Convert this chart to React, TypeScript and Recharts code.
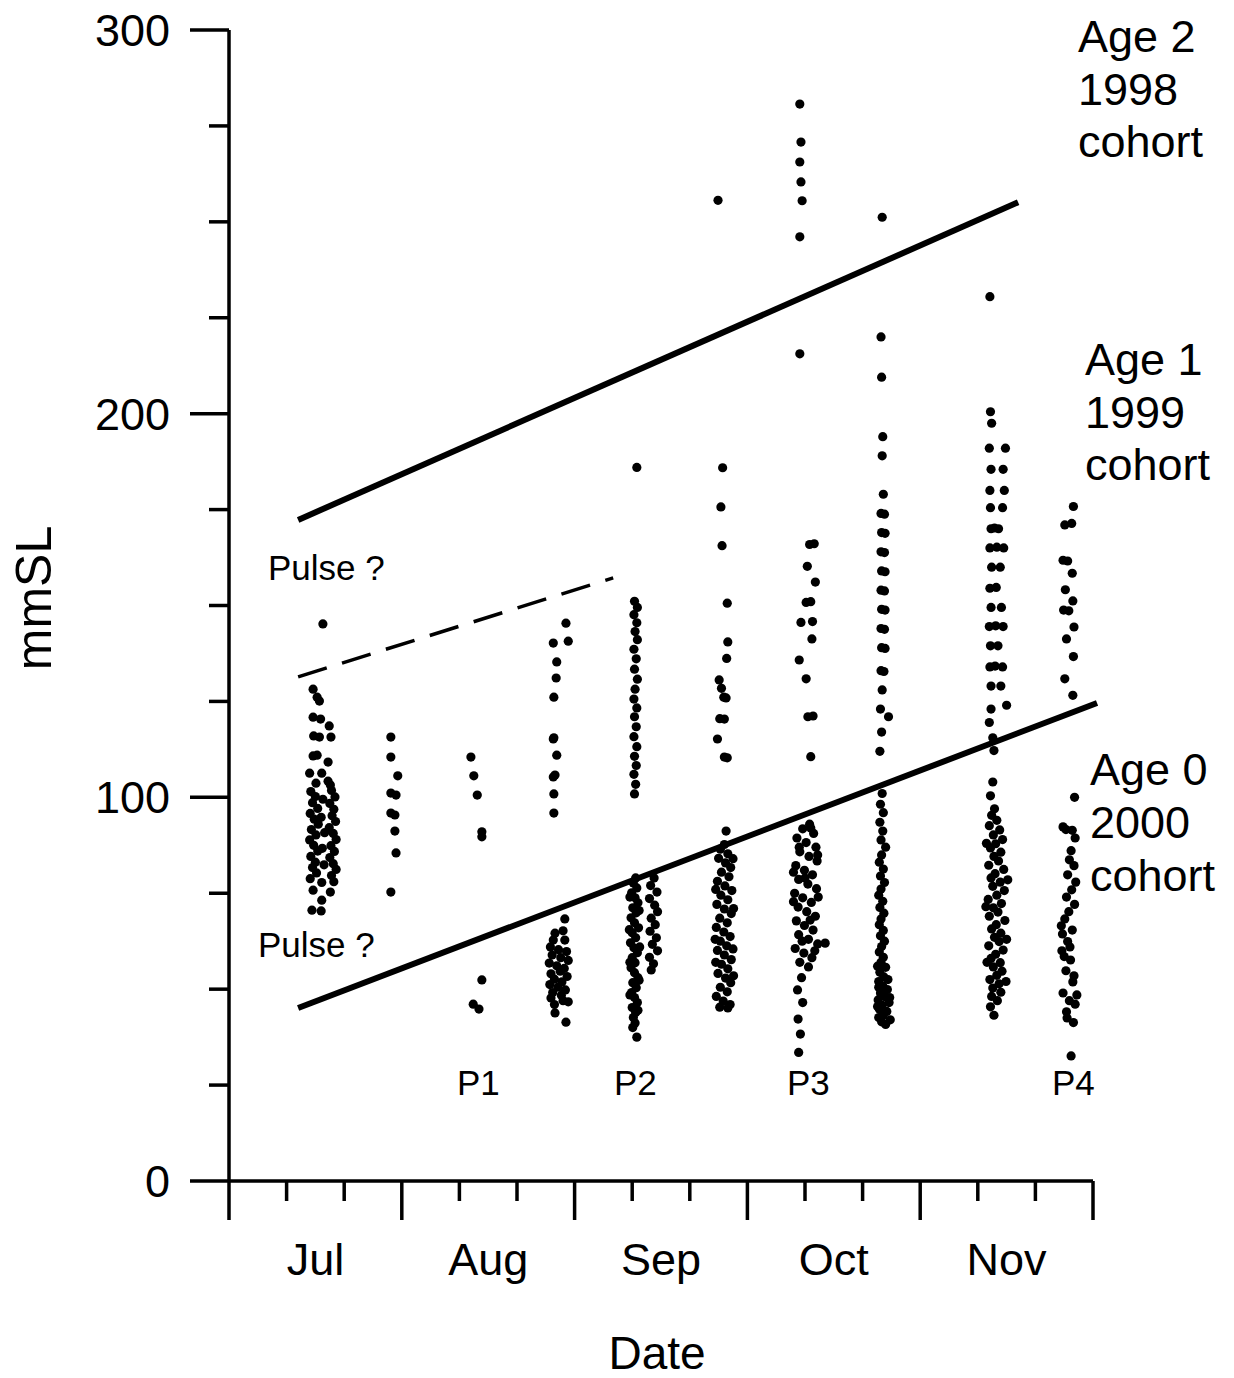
import { ScatterChart, Scatter, XAxis, YAxis, ReferenceLine } from "recharts";

// x is in "days" where each month = 30 units (0 = start of Jul)
const months = ["Jul", "Aug", "Sep", "Oct", "Nov"];
const xTicks = [0, 10, 15, 20, 30, 40, 45, 50, 60, 70, 75, 80, 90, 100, 105, 110, 120, 130, 135, 140, 150];
const yTicks = [0, 25, 50, 75, 100, 125, 150, 175, 200, 225, 250, 275, 300];

// cohort separation lines + "pulse ?" line
const age2Line = [{ x: 12, y: 172.3 }, { x: 137, y: 255.1 }];
const age0Line = [{ x: 12, y: 45.1 }, { x: 150.7, y: 124.6 }];
const pulseLine = [{ x: 12, y: 131.4 }, { x: 66.7, y: 157.2 }];

// samples: [date, mmSL]
const julEarly = [
  [16.3, 145.2],
  [14.6, 128.2], [15.3, 126.1], [15.7, 125.1], [14.6, 120.9], [15.9, 120.4], [17.4, 118.6],
  [14.7, 116.0], [15.7, 115.7], [17.7, 115.7], [14.6, 110.8], [15.3, 111.0], [17.2, 109.2],
  [14.0, 106.3], [16.1, 106.3], [17.2, 104.2], [15.1, 103.7], [17.6, 103.2],
  [14.2, 101.5], [15.0, 100.2], [14.5, 98.6], [15.4, 97.1], [14.1, 95.8], [14.8, 94.3], [15.5, 93.0],
  [14.3, 91.6], [15.1, 90.2], [14.0, 88.9], [14.7, 87.5], [15.4, 86.0], [14.2, 84.6], [15.0, 83.1],
  [14.5, 81.7], [15.2, 80.3], [14.1, 78.8],
  [17.8, 101.8], [18.4, 100.1], [17.5, 98.4], [18.2, 96.9], [17.9, 95.2], [18.5, 93.7], [17.4, 92.1],
  [18.1, 90.6], [18.6, 89.0], [17.7, 87.4], [18.3, 85.9], [17.5, 84.3], [18.1, 82.7], [18.6, 81.2],
  [17.8, 79.6], [18.2, 78.0],
  [16.3, 99.5], [16.0, 94.8], [16.6, 90.8], [16.2, 86.7], [16.5, 82.4], [16.1, 77.8],
  [14.6, 75.8], [17.6, 75.3], [16.1, 73.2], [14.4, 70.6], [16.0, 70.4],
];

const julLate = [
  [28.1, 115.7], [28.1, 110.5], [29.3, 105.6], [28.1, 101.1], [29.0, 100.6],
  [28.1, 95.9], [28.8, 95.4], [28.8, 91.2], [29.0, 85.5], [28.1, 75.3],
];

const augMid = [
  [42.0, 110.5], [42.5, 105.6], [43.1, 100.6], [43.9, 91.0], [43.9, 89.7],
  [43.9, 52.4], [42.4, 46.1], [43.4, 44.8],
];

const augLate = [
  [58.5, 145.4], [58.9, 140.7], [56.3, 140.2], [56.9, 135.3], [56.8, 131.1], [56.4, 126.1],
  [56.4, 115.5], [56.3, 115.2], [56.9, 111.0], [56.6, 105.8], [56.3, 105.3], [56.4, 100.9], [56.4, 95.9],
  [58.3, 68.3], [56.6, 64.6], [58.0, 65.2], [56.3, 62.8], [58.3, 62.8],
  [55.8, 61.0], [57.2, 60.3], [58.6, 59.8], [56.1, 58.9], [57.6, 58.2], [58.9, 57.5], [55.6, 56.8],
  [56.9, 56.1], [58.2, 55.4], [57.5, 54.7], [55.9, 54.0], [58.7, 53.3], [56.5, 52.6], [57.8, 51.9],
  [55.7, 51.2], [57.1, 50.5], [58.4, 49.8], [56.2, 49.1], [57.7, 48.4], [55.9, 47.7], [58.0, 47.0],
  [56.5, 46.0], [58.9, 46.7], [56.6, 43.8], [58.5, 41.4],
];

const sepEarly = [
  [70.8, 186.0],
  [70.4, 151.1], [70.9, 149.5], [70.3, 147.6], [70.8, 145.5], [70.5, 143.2], [70.9, 141.1],
  [70.3, 138.6], [70.7, 136.1], [70.4, 133.4], [70.9, 130.8], [70.5, 128.2], [70.3, 125.6],
  [70.8, 123.3], [70.4, 121.0], [70.7, 118.4], [70.3, 115.8], [70.8, 113.2], [70.4, 110.7],
  [70.7, 108.3], [70.3, 106.0], [70.6, 103.4], [70.4, 100.9],
  [70.6, 79.0], [70.2, 77.7], [70.8, 76.4], [69.9, 75.1], [70.5, 73.8], [71.0, 72.5], [70.1, 71.2],
  [70.7, 69.9], [69.8, 68.6], [70.4, 67.3], [71.1, 66.0], [70.0, 64.7], [70.6, 63.4], [69.7, 62.1],
  [70.3, 60.8], [70.9, 59.5], [70.0, 58.2], [70.5, 56.9], [69.8, 55.6], [70.4, 54.3], [71.0, 53.0],
  [70.1, 51.7], [70.7, 50.4], [69.9, 49.1], [70.4, 47.8], [70.9, 46.5], [70.0, 45.2], [70.6, 43.9],
  [70.2, 42.6], [70.5, 41.2], [70.1, 40.0], [70.8, 37.5],
  [69.6, 74.0], [71.2, 70.5], [69.5, 65.5], [71.3, 61.0], [69.6, 57.0], [71.2, 52.3], [69.6, 48.5], [71.0, 44.5],
  [73.8, 79.0], [73.2, 77.0], [74.3, 75.3], [73.0, 73.6], [73.9, 71.9], [74.4, 70.2], [73.3, 68.5],
  [74.0, 66.8], [73.1, 65.1], [74.2, 63.4], [73.5, 61.7], [74.4, 60.0], [73.0, 58.3], [73.7, 56.6], [73.3, 55.0],
];

const sepLate = [
  [84.9, 255.6],
  [85.7, 185.9], [85.4, 175.7], [85.6, 165.6], [86.5, 150.6], [86.6, 140.5], [86.4, 136.2],
  [85.1, 130.6], [85.5, 128.4], [85.9, 126.1], [86.3, 125.9], [85.2, 120.5], [86.0, 120.4],
  [84.8, 115.2], [86.0, 110.5], [86.5, 110.3],
  [86.3, 91.2],
  [86.0, 87.7], [85.3, 86.5], [86.6, 85.3], [85.0, 84.1], [86.2, 82.9], [87.1, 81.7], [85.5, 80.5],
  [86.8, 79.3], [84.8, 78.1], [86.1, 76.9], [87.3, 75.7], [85.4, 74.5], [86.6, 73.3], [84.7, 72.1],
  [86.0, 70.9], [87.2, 69.7], [85.2, 68.5], [86.5, 67.3], [84.6, 66.1], [85.9, 64.9], [87.0, 63.7],
  [85.3, 62.5], [86.4, 61.3], [84.8, 60.1], [86.0, 58.9], [87.2, 57.7], [85.5, 56.5], [86.6, 55.3],
  [84.9, 54.1], [86.2, 52.9], [87.1, 51.7], [85.3, 50.5], [86.5, 49.3], [84.6, 48.1], [85.8, 46.9],
  [87.0, 46.0], [85.2, 45.3], [86.6, 45.1],
  [87.5, 84.0], [84.5, 76.0], [87.6, 71.0], [84.4, 63.0], [87.5, 60.5], [84.5, 57.0], [87.6, 53.5],
];

const octMid = [
  [99.1, 280.7], [99.3, 270.8], [99.1, 265.6], [99.3, 260.4], [99.5, 255.5], [99.1, 246.1], [99.1, 215.6],
  [100.8, 165.9], [101.6, 166.1], [100.4, 160.2], [101.8, 156.1], [100.2, 150.8], [101.0, 151.0],
  [99.3, 145.6], [101.3, 145.8], [101.2, 141.3], [99.0, 135.8], [100.2, 130.9], [100.5, 121.0],
  [101.4, 121.2], [101.0, 110.6],
  [100.8, 93.0], [99.6, 91.8], [101.5, 90.6], [98.6, 89.4], [100.2, 88.2], [101.9, 87.0], [99.1, 85.8],
  [100.7, 84.6], [102.1, 83.4], [98.4, 82.2], [99.9, 81.0], [101.3, 79.8], [98.9, 78.6], [100.5, 77.4],
  [102.0, 76.2], [98.2, 75.0], [99.6, 73.8], [101.1, 72.6], [98.8, 71.4], [100.3, 70.2], [101.8, 69.0],
  [98.5, 67.8], [99.9, 66.6], [101.4, 65.4], [98.9, 64.2], [100.6, 63.0], [102.2, 61.8], [98.3, 60.6],
  [99.8, 59.4], [101.2, 58.2], [99.1, 57.0], [100.6, 55.8],
  [101.0, 92.0], [99.0, 87.0], [102.2, 85.0], [100.0, 79.0], [98.0, 80.5], [102.3, 74.0], [100.9, 68.0],
  [98.0, 72.8], [99.5, 62.5], [101.7, 60.0],
  [99.4, 53.0], [98.7, 49.8], [99.6, 46.5], [98.8, 42.2], [99.2, 38.3], [98.9, 33.5], [103.5, 62.0],
];

const octLate = [
  [113.4, 251.2],
  [113.2, 220.0], [113.3, 209.5], [113.5, 194.0], [113.4, 189.0], [113.6, 179.0], [113.2, 174.0],
  [113.8, 173.8], [113.3, 169.0], [113.9, 168.8], [113.2, 164.0], [113.8, 163.8], [113.3, 159.0],
  [113.9, 158.8], [113.2, 154.0], [113.8, 153.8], [113.3, 149.0], [113.9, 148.8], [113.2, 144.0],
  [113.8, 143.8], [113.3, 139.0], [113.9, 138.8], [113.2, 133.0], [113.7, 132.8], [113.4, 128.0],
  [113.1, 123.0], [114.5, 121.0], [113.3, 117.0], [113.0, 112.0],
  [113.4, 101.0], [113.1, 98.2], [113.6, 96.0], [113.0, 93.5], [113.5, 91.2], [113.2, 88.9], [114.0, 87.0],
  [113.3, 85.0], [112.9, 83.1], [113.6, 81.3], [113.1, 79.5], [113.8, 77.8], [113.2, 76.1], [112.8, 74.5],
  [113.5, 72.9], [113.0, 71.3], [113.7, 69.8], [113.2, 68.3], [112.9, 66.8], [113.6, 65.3], [113.1, 63.9],
  [113.8, 62.5], [113.3, 61.1], [112.9, 59.7], [113.6, 58.3], [113.2, 57.0], [114.0, 55.7], [113.0, 54.4],
  [113.7, 53.2], [112.8, 52.0], [113.5, 50.8], [114.3, 49.9], [113.1, 49.0], [113.9, 48.0], [112.7, 47.2],
  [114.6, 46.5], [113.4, 45.8], [112.9, 44.8], [114.2, 44.2], [113.6, 43.3], [112.8, 42.6], [114.8, 42.0],
  [113.3, 41.5], [114.0, 40.8], [112.6, 45.5], [114.7, 47.8], [112.8, 50.5], [114.4, 52.5], [112.6, 56.0],
];

const novMid = [
  [132.1, 230.5],
  [132.2, 200.5], [132.4, 197.5], [132.0, 191.0], [134.8, 191.0], [132.3, 185.5], [134.4, 185.5],
  [132.1, 180.0], [134.6, 180.0], [132.2, 175.5], [134.3, 175.5], [132.3, 170.0], [132.9, 170.2],
  [133.6, 170.0], [132.1, 165.0], [133.3, 165.2], [134.5, 165.0], [132.4, 160.0], [133.9, 160.0],
  [132.1, 154.5], [133.2, 154.7], [132.3, 149.5], [134.1, 149.5], [132.0, 144.5], [133.1, 144.7],
  [134.4, 144.5], [132.2, 139.5], [133.5, 139.5], [132.1, 134.0], [133.0, 134.2], [134.3, 134.0],
  [132.3, 129.0], [134.0, 129.0], [132.3, 123.0], [135.0, 124.0], [132.0, 119.5], [132.6, 115.5],
  [132.8, 112.2],
  [132.6, 104.0], [132.2, 100.4], [132.9, 97.0], [132.4, 95.3], [133.3, 94.0], [132.0, 92.6], [133.8, 91.5],
  [132.7, 90.2], [134.3, 89.0], [133.1, 87.9], [132.2, 86.8], [134.0, 85.7], [132.8, 84.6], [133.6, 83.4],
  [131.9, 82.3], [134.5, 81.2], [133.0, 80.1], [132.3, 79.0], [133.9, 77.9], [132.6, 76.8], [134.6, 75.7],
  [133.3, 74.5], [131.8, 73.4], [134.1, 72.3], [132.7, 71.2], [133.5, 70.1], [132.0, 69.0], [134.7, 67.9],
  [133.2, 66.8], [132.4, 65.7], [134.0, 64.6], [132.9, 63.5], [133.7, 62.4], [131.9, 61.3], [134.4, 60.2],
  [133.1, 59.1], [132.3, 58.0], [133.9, 56.9], [132.7, 55.8], [134.2, 54.7], [133.3, 53.6], [132.1, 52.5],
  [133.7, 51.4], [132.6, 50.3], [134.0, 49.2], [132.4, 48.1], [133.4, 47.0], [132.2, 45.4], [132.8, 43.2],
  [131.5, 88.0], [135.2, 78.5], [131.4, 71.5], [135.0, 63.0], [131.6, 57.0], [134.9, 52.0],
];

const novLate = [
  [146.6, 175.8], [145.1, 171.0], [146.3, 171.4], [144.8, 161.8], [145.6, 161.6], [146.4, 158.4],
  [145.2, 154.1], [146.5, 151.2], [144.9, 148.8], [145.8, 148.6], [146.7, 144.4], [145.4, 141.3],
  [146.6, 136.7], [145.1, 130.9], [146.5, 126.6],
  [146.8, 100.0], [144.8, 92.3], [145.3, 91.6], [146.4, 91.4], [146.9, 89.4], [146.2, 86.1], [145.9, 83.7],
  [146.7, 82.2], [145.6, 79.8], [147.0, 77.9], [146.3, 75.9], [145.4, 74.0], [146.8, 72.1], [145.8, 70.2],
  [145.1, 68.3], [146.4, 65.4], [144.7, 64.4], [145.6, 62.4], [144.6, 60.0], [146.1, 57.6], [145.3, 54.8],
  [146.5, 51.9], [144.8, 49.0], [145.9, 47.0], [146.9, 46.1], [145.4, 44.1], [146.6, 41.3], [146.2, 32.6],
  [144.5, 66.5], [146.0, 61.0], [145.0, 58.5], [146.7, 53.5], [145.5, 42.5], [147.2, 48.5],
];

const samples = [julEarly, julLate, augMid, augLate, sepEarly, sepLate, octMid, octLate, novMid, novLate];

const FONT = "'Liberation Sans', Arial, Helvetica, sans-serif";

const XTick = (props: any) => {
  const { x, y, payload } = props;
  const v = payload.value;
  if (v % 30 === 15) {
    return (
      <text x={x} y={y + 94} textAnchor="middle" fontSize={45} fontFamily={FONT} fill="#000">
        {months[(v - 15) / 30]}
      </text>
    );
  }
  const len = v % 30 === 0 ? 39 : 20;
  return <line x1={x} y1={y} x2={x} y2={y + len} stroke="#000" strokeWidth={3.5} />;
};

const YTick = (props: any) => {
  const { x, y, payload } = props;
  const v = payload.value;
  const major = v % 100 === 0;
  return (
    <g>
      <line x1={x - (major ? 39 : 20)} y1={y} x2={x} y2={y} stroke="#000" strokeWidth={3.5} />
      {major && (
        <text x={x - 59} y={y} dy={16} textAnchor="end" fontSize={45} fontFamily={FONT} fill="#000">
          {v}
        </text>
      )}
    </g>
  );
};

const Dot = (props: any) => <circle cx={props.cx} cy={props.cy} r={4.6} fill="#000" />;

const textStyle = { fontFamily: FONT, fill: "#000" };

export default function App() {
  // pinned to the page corner so nothing sits in the body margin
  return (
    <div style={{ position: "absolute", left: 0, top: 0, width: 1234, height: 1378 }}>
      <ScatterChart
        width={1234}
        height={1378}
        margin={{ top: 30, right: 141, bottom: 97, left: 0 }}
      >
        <XAxis
          type="number"
          dataKey="x"
          domain={[0, 150]}
          ticks={xTicks}
          interval={0}
          tickSize={0}
          tickMargin={0}
          tickLine={false}
          tick={<XTick />}
          height={100}
          axisLine={{ stroke: "#000", strokeWidth: 3.5 }}
          allowDataOverflow
        />
        <YAxis
          type="number"
          dataKey="y"
          domain={[0, 300]}
          ticks={yTicks}
          interval={0}
          tickSize={0}
          tickMargin={0}
          tickLine={false}
          tick={<YTick />}
          width={229}
          axisLine={{ stroke: "#000", strokeWidth: 3.5 }}
          allowDataOverflow
        />

        <ReferenceLine segment={age2Line} stroke="#000" strokeWidth={6} ifOverflow="visible" />
        <ReferenceLine segment={age0Line} stroke="#000" strokeWidth={6} ifOverflow="visible" />
        <ReferenceLine
          segment={pulseLine}
          stroke="#000"
          strokeWidth={3.5}
          strokeDasharray="30 16"
          ifOverflow="visible"
        />

        {samples.map((s, i) => (
          <Scatter
            key={i}
            data={s.map(([x, y]) => ({ x, y }))}
            shape={<Dot />}
            isAnimationActive={false}
          />
        ))}

        {/* axis titles */}
        <text
          transform="translate(51,598) rotate(-90)"
          textAnchor="middle"
          fontSize={50}
          style={textStyle}
        >
          mmSL
        </text>
        <text x={657} y={1369} textAnchor="middle" fontSize={46} style={textStyle}>
          Date
        </text>

        {/* cohort labels */}
        <text x={1078} fontSize={45} style={textStyle}>
          <tspan x={1078} y={52}>Age 2</tspan>
          <tspan x={1078} y={105}>1998</tspan>
          <tspan x={1078} y={157}>cohort</tspan>
        </text>
        <text x={1085} fontSize={45} style={textStyle}>
          <tspan x={1085} y={375}>Age 1</tspan>
          <tspan x={1085} y={428}>1999</tspan>
          <tspan x={1085} y={480}>cohort</tspan>
        </text>
        <text x={1090} fontSize={45} style={textStyle}>
          <tspan x={1090} y={785}>Age 0</tspan>
          <tspan x={1090} y={838}>2000</tspan>
          <tspan x={1090} y={891}>cohort</tspan>
        </text>

        {/* pulse notes */}
        <text x={268} y={580} fontSize={35} style={textStyle}>Pulse ?</text>
        <text x={258} y={957} fontSize={35} style={textStyle}>Pulse ?</text>
        <text x={457} y={1095} fontSize={35} style={textStyle}>P1</text>
        <text x={614} y={1095} fontSize={35} style={textStyle}>P2</text>
        <text x={787} y={1095} fontSize={35} style={textStyle}>P3</text>
        <text x={1052} y={1095} fontSize={35} style={textStyle}>P4</text>
      </ScatterChart>
    </div>
  );
}
